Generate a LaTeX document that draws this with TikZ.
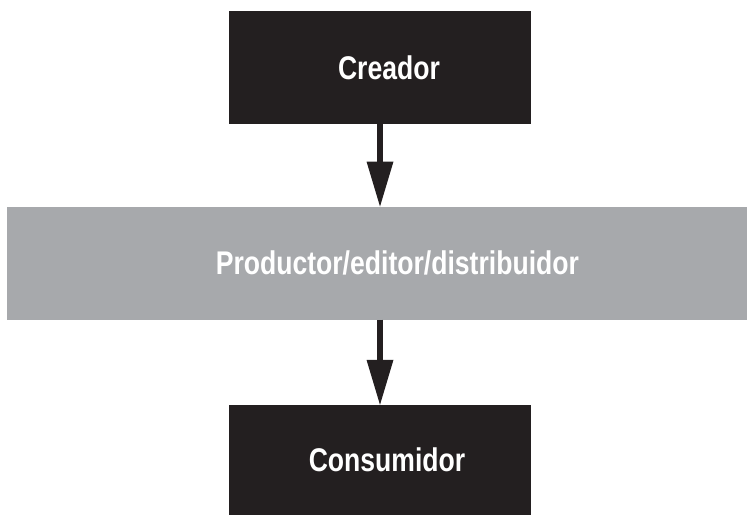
\documentclass[tikz,border=0pt]{standalone}
\usepackage{fontspec}
\newfontfamily\condfont{Liberation Sans}[FakeStretch=0.81]
\usetikzlibrary{arrows.meta}
\definecolor{boxblack}{HTML}{231F20}
\definecolor{bandgray}{HTML}{A7A9AC}
\begin{document}
\begin{tikzpicture}[x=1pt,y=-1pt,
  label text/.style={text=white,inner sep=0pt,font=\condfont\bfseries\fontsize{32.8}{36}\selectfont,text depth=0pt},
  darkbox/.style={fill=boxblack,inner sep=0pt,minimum width=302pt,minimum height=113pt},
  grayband/.style={fill=bandgray,inner sep=0pt,minimum width=781.3pt,minimum height=112.8pt},
  flow/.style={draw=boxblack,line width=6.5pt,-{Triangle[width=27pt,length=45pt,line width=0pt]}}]
  \useasboundingbox (0,0) rectangle (747,515);
  % boxes
  \node[darkbox] (creador) at (380,67.5) {};
  \node[grayband] (productor) at (397.35,263.1) {};
  \node[darkbox,minimum height=110pt] (consumidor) at (380,460) {};
  % labels, set a little right of the box centres
  \node[label text] (creadortxt) at ([xshift=9pt]creador.center) {Creador};
  \node[label text] (productortxt) at (productor.center) {Productor/editor/distribuidor};
  \node[label text] (consumidortxt) at ([xshift=7pt]consumidor.center) {Consumidor};
  % flow arrows
  \draw[flow] (creador.south) -- (creador.south |- productor.north);
  \draw[flow] (creador.south |- productor.south) -- (consumidor.north);
\end{tikzpicture}
\end{document}
